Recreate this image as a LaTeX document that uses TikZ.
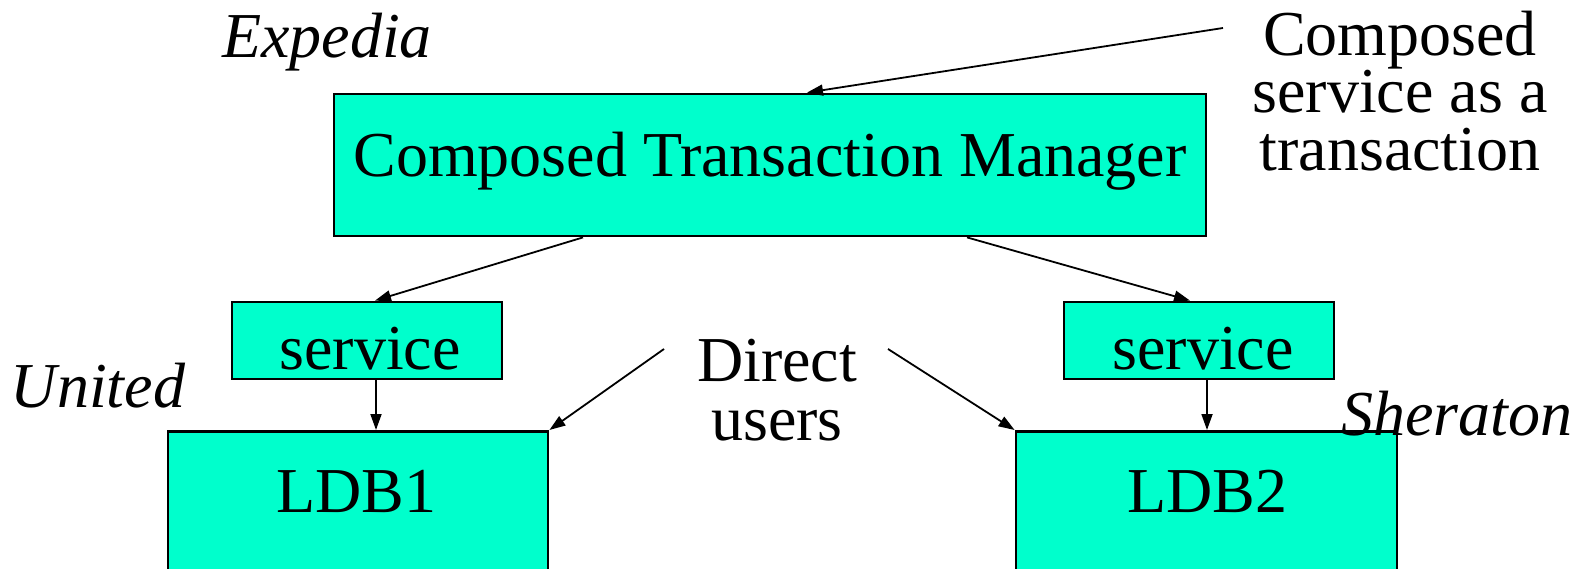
\documentclass[tikz,border=0pt]{standalone}
\usepackage{fontspec}
\setmainfont{Liberation Serif}
\usetikzlibrary{arrows.meta}
\definecolor{boxfill}{RGB}{0,255,204}
\tikzset{
  boxnode/.style={draw=black, line width=2.8pt, fill=boxfill, inner sep=0pt},
  lbl/.style={inner sep=0pt, font=\fontsize{64}{57}\selectfont, align=center},
  ital/.style={inner sep=0pt, font=\fontsize{64}{58}\selectfont\itshape},
  arr/.style={line width=1.8pt, -{Triangle[length=16pt,width=11pt]}}
}
\begin{document}
\begin{tikzpicture}[x=1pt,y=-1pt]
\useasboundingbox (0,0) rectangle (1585,569);
\clip (0,0) rectangle (1585,569);
\fill[white] (0,0) rectangle (1585,569);
% boxes
\node[boxnode, minimum width=872pt, minimum height=142pt, font=\fontsize{64}{58}\selectfont, text height=44pt, text depth=20pt] (ctm) at (770,165) {Composed Transaction Manager};
\node[boxnode, minimum width=270pt, minimum height=77pt, font=\fontsize{64}{58}\selectfont, text height=57pt, text depth=0pt] (svc1) at (367,340.5) {\hspace*{6pt}service};
\node[boxnode, minimum width=270pt, minimum height=77pt, font=\fontsize{64}{58}\selectfont, text height=57pt, text depth=0pt] (svc2) at (1199,340.5) {\hspace*{8pt}service};
\node[boxnode, minimum width=380pt, minimum height=240pt, anchor=north] (ldb1) at (358,430) {};
\node[boxnode, minimum width=381pt, minimum height=240pt, anchor=north] (ldb2) at (1206.5,430) {};
\node[lbl, anchor=base] (ldb1t) at (356,512.5) {LDB1};
\node[lbl, anchor=base] (ldb2t) at (1207,512.5) {LDB2};
% labels
\node[ital, anchor=base] (expedia) at (327,57.6) {Expedia};
\node[ital, anchor=base] (united) at (98,407) {United};
\node[ital, anchor=base] (sheraton) at (1457,435) {Sheraton};
\node[lbl, anchor=base, font=\fontsize{64}{57.5}\selectfont] (composed) at (1400,170.5) {Composed\\service as a\\transaction};
\node[lbl, anchor=base, font=\fontsize{64}{59}\selectfont] (direct) at (777,440) {Direct\\users};
% connector free ends
\coordinate (cstart) at (1223,28);
\coordinate (dl) at (664,349);
\coordinate (dr) at (888,349);
% connectors
\draw[arr] (cstart) -- ([xshift=37pt]ctm.north);
\draw[arr] ([xshift=-187pt]ctm.south) -- ([xshift=8pt]svc1.north);
\draw[arr] ([xshift=197pt]ctm.south) -- ([xshift=-9pt]svc2.north);
\draw[arr] ([xshift=9pt]svc1.south) -- ([xshift=9pt]svc1.south |- ldb1.north);
\draw[arr] ([xshift=8pt]svc2.south) -- ([xshift=8pt]svc2.south |- ldb2.north);
\draw[arr] (dl) -- (ldb1.north east);
\draw[arr] (dr) -- (ldb2.north west);
\end{tikzpicture}
\end{document}
